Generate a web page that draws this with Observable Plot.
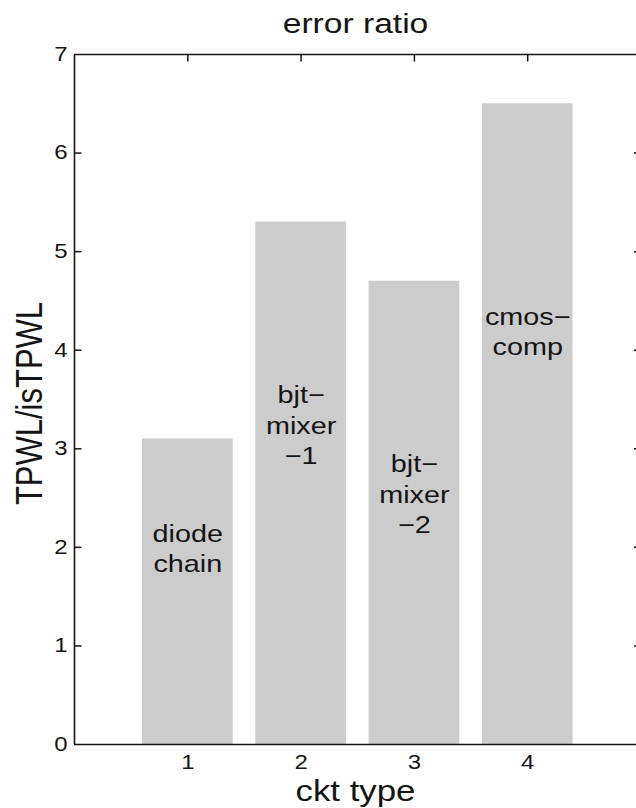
<!DOCTYPE html>
<html>
<head>
<meta charset="utf-8">
<script src="https://cdn.jsdelivr.net/npm/d3@7"></script>
<script src="https://cdn.jsdelivr.net/npm/@observablehq/plot@0.6"></script>
<style>
  html, body { margin: 0; padding: 0; background: #fff; }
</style>
</head>
<body>
<div id="chart"></div>
<script>
// ---- data ----
const categories = [1, 2, 3, 4];
const values = [3.1, 5.3, 4.7, 6.5];
const barLabels = ["diode\nchain", "bjt\u2212\nmixer\n\u22121", "bjt\u2212\nmixer\n\u22122", "cmos\u2212\ncomp"];
const labelY = [2.0, 3.25, 2.55, 4.2];
const xTicks = [1, 2, 3, 4];
const yTicks = [0, 1, 2, 3, 4, 5, 6, 7];
const yInnerTicks = [1, 2, 3, 4, 5, 6];
const titleText = "error ratio";
const xLabel = "ckt type";
const yLabel = "TPWL/isTPWL";

const rows = categories.map((c, i) => ({c, v: values[i], label: barLabels[i], ly: labelY[i]}));
const half = 0.4; // bar width 0.8
const S = 1.2;    // horizontal glyph stretch of the original rendering
const T = 7;      // inward tick length (px)
const ink = "#151515";

// tick glyphs drawn as custom dot symbols (inward-pointing)
const tickSym = (dx, dy) => ({draw(ctx) { ctx.moveTo(0, 0); ctx.lineTo(dx, dy); }});
const tickRightward = tickSym(T, 0);
const tickLeftward = tickSym(-T, 0);
const tickDownward = tickSym(0, T);
const tickUpward = tickSym(0, -T);

const chart = Plot.plot({
  width: 636,
  height: 808,
  marginLeft: 74,
  marginTop: 54,
  marginBottom: 64,
  marginRight: 0,
  style: {fontFamily: "'Liberation Sans', Arial, Helvetica, sans-serif", fontSize: "20px", color: ink, background: "#fff", overflow: "visible"},
  x: {domain: [0, 5], range: [74, 640.5], axis: null},
  y: {domain: [0, 7], axis: null},
  marks: [
    // inward ticks (bottom ones sit under the bars, like MATLAB)
    Plot.dot(xTicks, {x: d => d, y: 0, symbol: tickUpward, r: 3, fill: "none", stroke: ink, strokeWidth: 1.5}),
    Plot.dot(xTicks, {x: d => d, y: 7, symbol: tickDownward, r: 3, fill: "none", stroke: ink, strokeWidth: 1.5}),
    Plot.dot(yInnerTicks, {x: 0, y: d => d, symbol: tickRightward, r: 3, fill: "none", stroke: ink, strokeWidth: 1.5}),
    Plot.dot(yInnerTicks, {x: 5, y: d => d, symbol: tickLeftward, r: 3, fill: "none", stroke: ink, strokeWidth: 1.5}),
    // bars
    Plot.rectY(rows, {x1: d => d.c - half, x2: d => d.c + half, y: "v", fill: "#cccccc"}),
    // box lines
    Plot.ruleY([0, 7], {stroke: ink, strokeWidth: 1.6}),
    Plot.ruleX([0], {stroke: ink, strokeWidth: 1.6}),
    // tick labels
    Plot.text(xTicks, {x: d => d, frameAnchor: "bottom", lineAnchor: "middle", dy: 18, fontSize: 20, fill: ink}),
    Plot.text(yTicks, {y: d => d, frameAnchor: "left", lineAnchor: "middle", dx: -7, textAnchor: "end", fontSize: 20, fill: ink}),
    // in-bar labels
    Plot.text(rows, {x: "c", y: "ly", text: "label", fontSize: 24, lineHeight: 1.27, textAnchor: "middle", lineAnchor: "middle", fill: ink}),
    // title and axis labels
    Plot.text([titleText], {frameAnchor: "top", lineAnchor: "middle", textAnchor: "middle", dy: -30, fontSize: 28, fill: ink}),
    Plot.text([xLabel], {frameAnchor: "bottom", lineAnchor: "middle", textAnchor: "middle", dy: 47, fontSize: 29, fill: ink}),
    Plot.text([yLabel], {frameAnchor: "left", lineAnchor: "middle", textAnchor: "middle", dx: -44, dy: 4, rotate: -90, fontSize: 31, fill: ink})
  ]
});

// stretch glyphs horizontally to match the reference rendering
chart.querySelectorAll("text").forEach(t => {
  const tr = t.getAttribute("transform");
  if (tr) {
    t.setAttribute("transform", tr + (tr.includes("rotate") ? ` scale(1,${S})` : ` scale(${S},1)`));
  } else {
    const x = +(t.getAttribute("x") || 0), y = +(t.getAttribute("y") || 0);
    t.setAttribute("transform", `translate(${x},${y}) scale(${S},1) translate(${-x},${-y})`);
  }
});

document.getElementById("chart").appendChild(chart);
</script>
</body>
</html>
